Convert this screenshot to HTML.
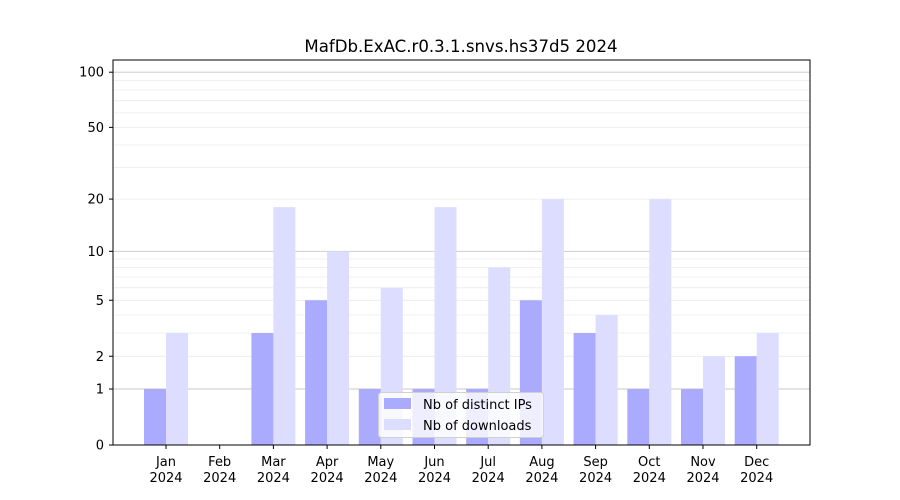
<!DOCTYPE html>
<html><head><meta charset="utf-8"><style>body{margin:0;background:#fff}svg{display:block;font-family:"DejaVu Sans","Liberation Sans",sans-serif}</style></head>
<body><svg id="s" width="900" height="500" xmlns="http://www.w3.org/2000/svg"></svg>
<script>
const s=document.getElementById('s');let h='';
const Y=v=>445-186*Math.log10(1+v);
const minors=[2,3,4,5,6,7,8,9,20,30,40,50,60,70,80,90];
for(const v of minors){h+=`<line x1="113" x2="810" y1="${Y(v).toFixed(1)}" y2="${Y(v).toFixed(1)}" stroke="#ebebeb" stroke-width="0.8"/>`;}
for(const v of [1,10,100]){h+=`<line x1="113" x2="810" y1="${Y(v).toFixed(1)}" y2="${Y(v).toFixed(1)}" stroke="#c8c8c8" stroke-width="0.9"/>`;}
const ips=[1,0,3,5,1,1,1,5,3,1,1,2],dl=[3,0,18,10,6,18,8,20,4,20,2,3];
const m=['Jan','Feb','Mar','Apr','May','Jun','Jul','Aug','Sep','Oct','Nov','Dec'];
for(let i=0;i<12;i++){const c=166+i*53.7;
 if(ips[i])h+=`<rect x="${c-22}" y="${Y(ips[i])}" width="22" height="${445-Y(ips[i])}" fill="#aaaaff"/>`;
 if(dl[i])h+=`<rect x="${c}" y="${Y(dl[i])}" width="22" height="${445-Y(dl[i])}" fill="#ddddff"/>`;
 h+=`<line x1="${c}" x2="${c}" y1="445" y2="449" stroke="#000"/>`;
 h+=`<text x="${c}" y="466" font-size="13" text-anchor="middle">${m[i]}</text><text x="${c}" y="482" font-size="13" text-anchor="middle">2024</text>`;}
for(const v of [0,1,2,5,10,20,50,100]){const y=Y(v);h+=`<line x1="109" x2="113" y1="${y}" y2="${y}" stroke="#000"/><text x="104" y="${y+4.5}" font-size="13" text-anchor="end">${v}</text>`;}
h+=`<rect x="113" y="60" width="697" height="385" fill="none" stroke="#000" stroke-width="1"/>`;
h+=`<text x="461" y="52" font-size="16.6" text-anchor="middle">MafDb.ExAC.r0.3.1.snvs.hs37d5 2024</text>`;
h+=`<rect x="378.5" y="392.5" width="165" height="45" rx="3" fill="#fff" fill-opacity="0.8" stroke="#d0d0d0"/>`;
h+=`<rect x="384" y="398" width="27" height="11" fill="#aaaaff"/><text x="423" y="409" font-size="13">Nb of distinct IPs</text>`;
h+=`<rect x="384" y="419" width="27" height="11" fill="#ddddff"/><text x="423" y="430" font-size="13">Nb of downloads</text>`;
s.innerHTML=h;
</script></body></html>
